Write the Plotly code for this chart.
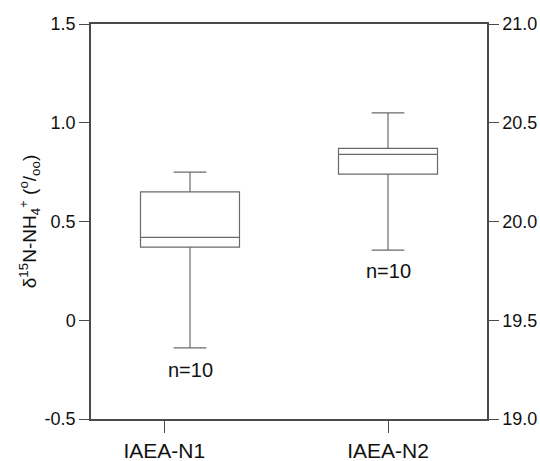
import plotly.graph_objects as go

categories = ["IAEA-N1", "IAEA-N2"]
lower_whisker = [-0.14, 19.855]
q1 = [0.37, 20.24]
median = [0.42, 20.34]
q3 = [0.65, 20.37]
upper_whisker = [0.75, 20.55]
n_labels = ["n=10", "n=10"]
n_label_y = [-0.25, 19.75]
box_pos = [1, 3]
tick_pos = [0.74, 3]
left_ticks = [-0.5, 0, 0.5, 1.0, 1.5]
left_ticktext = ["-0.5", "0", "0.5", "1.0", "1.5"]
right_ticks = [19.0, 19.5, 20.0, 20.5, 21.0]
right_ticktext = ["19.0", "19.5", "20.0", "20.5", "21.0"]

FONT = "Liberation Sans, Arial, sans-serif"
AX = "#4a4a4a"
BOXC = "#6a6a6a"

fig = go.Figure()
yrefs = ["y", "y2"]
for i, cat in enumerate(categories):
    fig.add_trace(go.Box(
        x=[box_pos[i]], q1=[q1[i]], median=[median[i]], q3=[q3[i]],
        lowerfence=[lower_whisker[i]], upperfence=[upper_whisker[i]],
        name=cat, width=1.0, whiskerwidth=0.33,
        fillcolor="rgba(255,255,255,0)",
        line=dict(color=BOXC, width=1.2),
        boxpoints=False, showlegend=False, hoverinfo="skip",
        yaxis=yrefs[i],
    ))
    fig.add_annotation(x=box_pos[i], y=n_label_y[i], xref="x", yref=yrefs[i],
                       text=n_labels[i], showarrow=False,
                       font=dict(family=FONT, size=20, color="#111"))

fig.update_layout(
    width=540, height=461,
    margin=dict(l=91, r=53, t=24, b=42, autoexpand=False),
    paper_bgcolor="white", plot_bgcolor="white",
    font=dict(family=FONT, size=18, color="#111"),
    xaxis=dict(range=[0, 4], tickvals=tick_pos, ticktext=categories,
               ticks="outside", ticklen=12, tickcolor=AX, tickwidth=1.2,
               showline=True, linecolor=AX, linewidth=1.5, mirror=True,
               showgrid=False, zeroline=False, automargin=False,
               tickfont=dict(size=21, family=FONT, color="#111")),
    yaxis=dict(range=[-0.5, 1.5], tickvals=left_ticks, ticktext=left_ticktext,
               ticks="outside", ticklen=10, tickcolor=AX, tickwidth=1.2,
               showline=True, linecolor=AX, linewidth=1.5,
               showgrid=False, zeroline=False, automargin=False,
               tickfont=dict(size=18, family=FONT, color="#111"),
               title=dict(text="δ<sup>15</sup>N-NH<sub>4</sub><sup>+</sup> (<sup>o</sup>/<sub>oo</sub>)",
                          font=dict(size=19, family=FONT, color="#111"), standoff=3)),
    yaxis2=dict(range=[19.0, 21.0], tickvals=right_ticks, ticktext=right_ticktext,
                overlaying="y", side="right",
                ticks="outside", ticklen=10, tickcolor=AX, tickwidth=1.2,
                showline=True, linecolor=AX, linewidth=1.5,
                showgrid=False, zeroline=False, automargin=False,
                tickfont=dict(size=18, family=FONT, color="#111")),
)

fig.write_html("out.html",
               config={"displayModeBar": False},
               post_script="document.body.style.margin='0';document.body.style.overflow='hidden';")
